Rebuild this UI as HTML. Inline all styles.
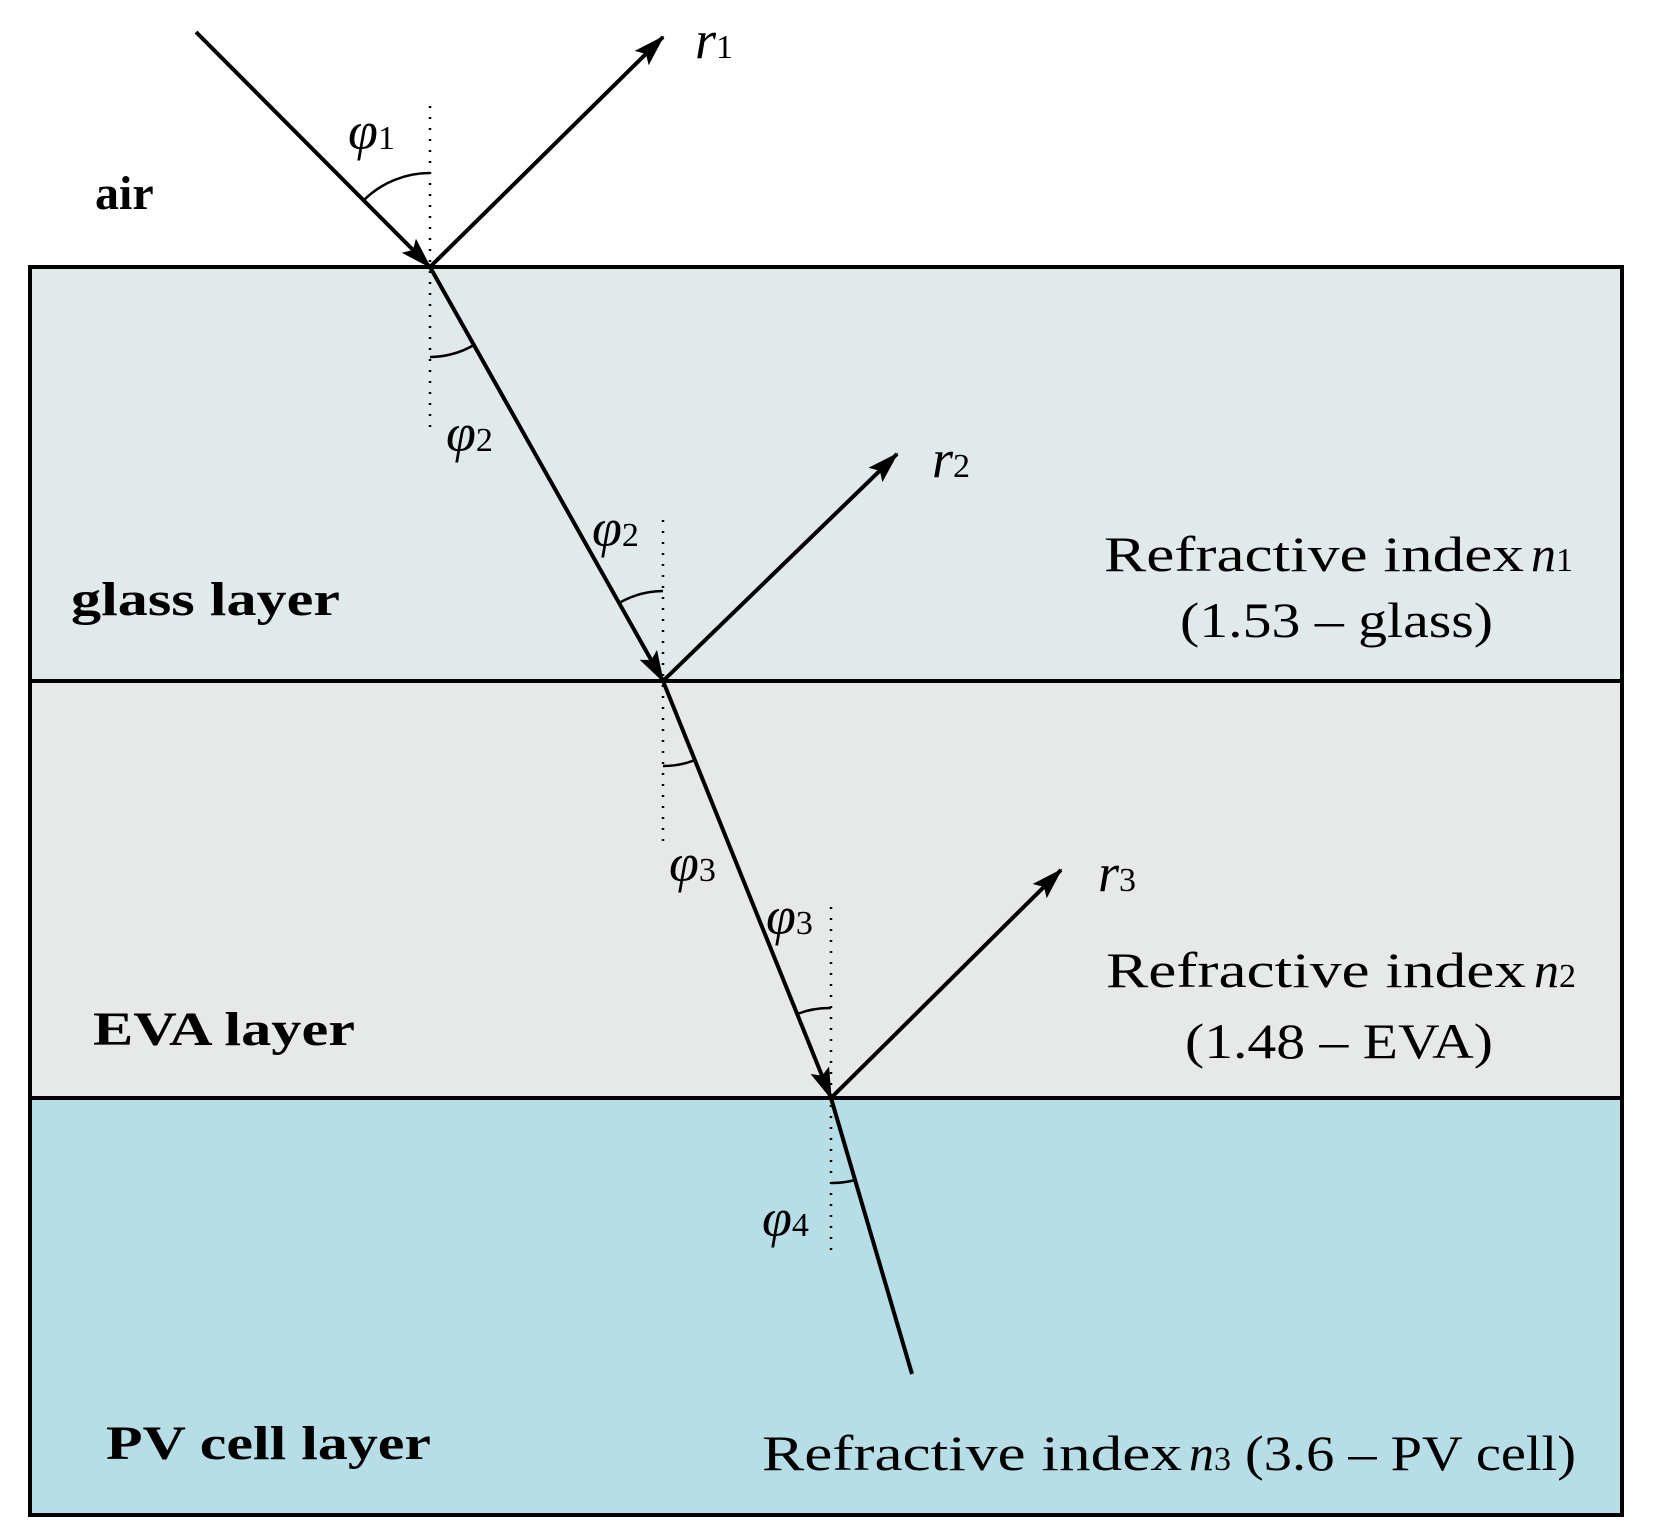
<!DOCTYPE html>
<html><head><meta charset="utf-8"><style>html,body{margin:0;padding:0;background:#fff}svg{display:block}</style></head>
<body>
<svg width="1655" height="1538" viewBox="0 0 1655 1538" xmlns="http://www.w3.org/2000/svg">
<defs>
<marker id="ah" markerUnits="userSpaceOnUse" markerWidth="34" markerHeight="24" refX="30" refY="12" orient="auto">
<path d="M0,2 L32,12 L0,22 L6,12 Z" fill="#000"/>
</marker>
</defs>
<rect x="30" y="267" width="1592" height="414" fill="#e1e9ea"/>
<rect x="30" y="681" width="1592" height="417" fill="#e7e9e9"/>
<rect x="30" y="1098" width="1592" height="417" fill="#b7dde6"/>
<g stroke="#000" stroke-width="4" fill="none">
<rect x="30" y="267" width="1592" height="1248"/>
<line x1="30" y1="681" x2="1622" y2="681"/>
<line x1="30" y1="1098" x2="1622" y2="1098"/>
</g>
<g stroke="#000" stroke-width="2.5" stroke-dasharray="2 9" fill="none">
<line x1="430" y1="106" x2="430" y2="430"/>
<line x1="663" y1="520" x2="663" y2="849"/>
<line x1="831" y1="907" x2="831" y2="1257"/>
</g>
<g stroke="#000" stroke-width="4" fill="none">
<line x1="196" y1="32" x2="430" y2="267" marker-end="url(#ah)"/>
<line x1="430" y1="267" x2="663" y2="37" marker-end="url(#ah)"/>
<line x1="430" y1="267" x2="663" y2="681" marker-end="url(#ah)"/>
<line x1="663" y1="681" x2="897" y2="454" marker-end="url(#ah)"/>
<line x1="663" y1="681" x2="831" y2="1098" marker-end="url(#ah)"/>
<line x1="831" y1="1098" x2="1061" y2="870" marker-end="url(#ah)"/>
<line x1="831" y1="1098" x2="912" y2="1374"/>
</g>
<g stroke="#000" stroke-width="2.5" fill="none">
<path d="M430 173 A94 94 0 0 0 364 200"/>
<path d="M430 357 A90 90 0 0 0 474 345"/>
<path d="M663 591 A90 90 0 0 0 619 603"/>
<path d="M663 766 A85 85 0 0 0 695 760"/>
<path d="M831 1008 A90 90 0 0 0 797 1014"/>
<path d="M831 1183 A85 85 0 0 0 855 1180"/>
</g>
<g font-family="Liberation Serif, serif" fill="#000">
<g font-size="54" font-style="italic">
<text x="348" y="149">φ<tspan font-size="34" font-style="normal">1</tspan></text>
<text x="446" y="451">φ<tspan font-size="34" font-style="normal">2</tspan></text>
<text x="592" y="546">φ<tspan font-size="34" font-style="normal">2</tspan></text>
<text x="669" y="881">φ<tspan font-size="34" font-style="normal">3</tspan></text>
<text x="766" y="934">φ<tspan font-size="34" font-style="normal">3</tspan></text>
<text x="762" y="1236">φ<tspan font-size="34" font-style="normal">4</tspan></text>
<text x="695" y="58">r<tspan font-size="34" font-style="normal">1</tspan></text>
<text x="932" y="477">r<tspan font-size="34" font-style="normal">2</tspan></text>
<text x="1098" y="891">r<tspan font-size="34" font-style="normal">3</tspan></text>
</g>
<g font-size="48" font-weight="bold">
<text x="95" y="209">air</text>
<text x="71" y="615" textLength="269" lengthAdjust="spacingAndGlyphs">glass layer</text>
<text x="93" y="1045" textLength="262" lengthAdjust="spacingAndGlyphs">EVA layer</text>
<text x="106" y="1459" textLength="325" lengthAdjust="spacingAndGlyphs">PV cell layer</text>
</g>
<g font-size="50">
<text x="1104" y="571" textLength="420" lengthAdjust="spacingAndGlyphs">Refractive index</text>
<text x="1531" y="571" font-style="italic">n<tspan font-size="34" font-style="normal">1</tspan></text>
<text x="1180" y="637" textLength="313" lengthAdjust="spacingAndGlyphs">(1.53 – glass)</text>
<text x="1106" y="987" textLength="420" lengthAdjust="spacingAndGlyphs">Refractive index</text>
<text x="1534" y="987" font-style="italic">n<tspan font-size="34" font-style="normal">2</tspan></text>
<text x="1185" y="1058" textLength="308" lengthAdjust="spacingAndGlyphs">(1.48 – EVA)</text>
<text x="762" y="1470" textLength="420" lengthAdjust="spacingAndGlyphs">Refractive index</text>
<text x="1189" y="1470" font-style="italic">n<tspan font-size="34" font-style="normal">3</tspan></text>
<text x="1245" y="1470" textLength="331" lengthAdjust="spacingAndGlyphs">(3.6 – PV cell)</text>
</g>
</g>
</svg>
</body></html>
